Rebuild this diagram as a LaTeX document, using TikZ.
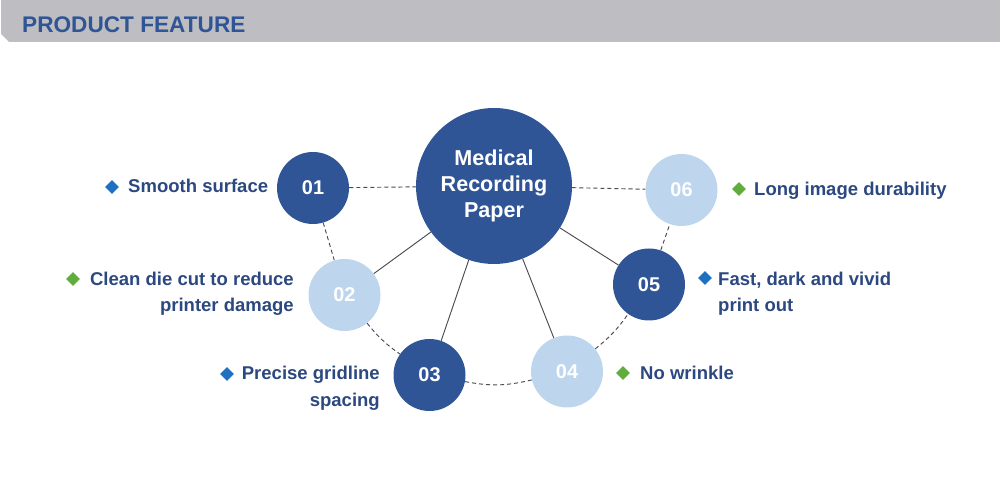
\documentclass[tikz,border=0pt]{standalone}
\usepackage{fontspec}
\setmainfont{Liberation Sans}
\usetikzlibrary{shapes.geometric}

\definecolor{darkblue}{RGB}{47,85,151}
\definecolor{lightblue}{RGB}{189,214,237}
\definecolor{labelblue}{RGB}{44,72,128}
\definecolor{dotblue}{RGB}{30,112,192}
\definecolor{dotgreen}{RGB}{96,172,60}
\definecolor{headgray}{RGB}{190,189,193}
\definecolor{linegray}{RGB}{75,75,80}

\tikzset{
	dark/.style={circle, fill=darkblue, inner sep=0pt, minimum size=72*0.03cm, text=white, font=\bfseries\fontsize{17}{17}\selectfont},
	light/.style={dark, fill=lightblue},
	bluedot/.style={diamond, fill=dotblue, inner sep=0pt, minimum size=14*0.03cm},
	greendot/.style={bluedot, fill=dotgreen},
	feature/.style={inner sep=0pt, text=labelblue, font=\bfseries\fontsize{15.8}{23}\selectfont},
	dashlink/.style={draw=linegray, line width=0.8pt, dash pattern=on 3.5pt off 2.5pt},
	solidlink/.style={draw=linegray, line width=0.8pt}
}

\begin{document}
\begin{tikzpicture}[x=0.03cm, y=-0.03cm]
	\useasboundingbox (0,0) rectangle (1000,488);

	% header bar
	\fill[headgray] (1,0) -- (1000,0) -- (1000,42) -- (9,42) -- (1,34) -- cycle;
	\node[anchor=base west, inner sep=0pt, text=darkblue, font=\bfseries\fontsize{19.3}{19.3}\selectfont] (title) at (22,33) {PRODUCT FEATURE};

	% circles
	\node[dark, minimum size=156*0.03cm, align=center, font=\bfseries\fontsize{18.4}{22.4}\selectfont] (paper) at (494,186) {Medical\\Recording\\Paper};
	\node[dark] (o1) at (313,188) {01};
	\node[light] (o2) at (344.5,295) {02};
	\node[dark] (o3) at (429.5,375) {03};
	\node[light] (o4) at (567,371.5) {04};
	\node[dark] (o5) at (649,284.5) {05};
	\node[light] (o6) at (681.5,190) {06};

	% links
	\draw[dashlink] (o1) -- (paper);
	\draw[dashlink] (paper) -- (o6);
	\draw[dashlink] (o1) -- (o2);
	\draw[dashlink] (o2) to[bend right=8] (o3);
	\draw[dashlink] (o3) to[bend right=12] (o4);
	\draw[dashlink] (o4) to[bend right=8] (o5);
	\draw[dashlink] (o5) -- (o6);
	\draw[solidlink] (paper) -- (o2);
	\draw[solidlink] (paper) -- (o3);
	\draw[solidlink] (paper) -- (o4);
	\draw[solidlink] (paper) -- (o5);

	% feature texts
	\node[bluedot] (d1) at (112,187) {};
	\node[feature, anchor=base west] (t1) at (128,193) {Smooth surface};
	\node[greendot] (d2) at (73,279) {};
	\node[feature, anchor=base east] (t2a) at (294,286) {Clean die cut to reduce};
	\node[feature, anchor=base east] (t2b) at (294,312) {printer damage};
	\node[bluedot] (d3) at (227,374) {};
	\node[feature, anchor=base east] (t3a) at (380,380) {Precise gridline};
	\node[feature, anchor=base east] (t3b) at (380,407) {spacing};
	\node[greendot] (d4) at (623,373) {};
	\node[feature, anchor=base west] (t4) at (640,380) {No wrinkle};
	\node[bluedot] (d5) at (705,278) {};
	\node[feature, anchor=base west] (t5a) at (718,286) {Fast, dark and vivid};
	\node[feature, anchor=base west] (t5b) at (718,312) {print out};
	\node[greendot] (d6) at (739,189) {};
	\node[feature, anchor=base west] (t6) at (754,196) {Long image durability};
\end{tikzpicture}
\end{document}
